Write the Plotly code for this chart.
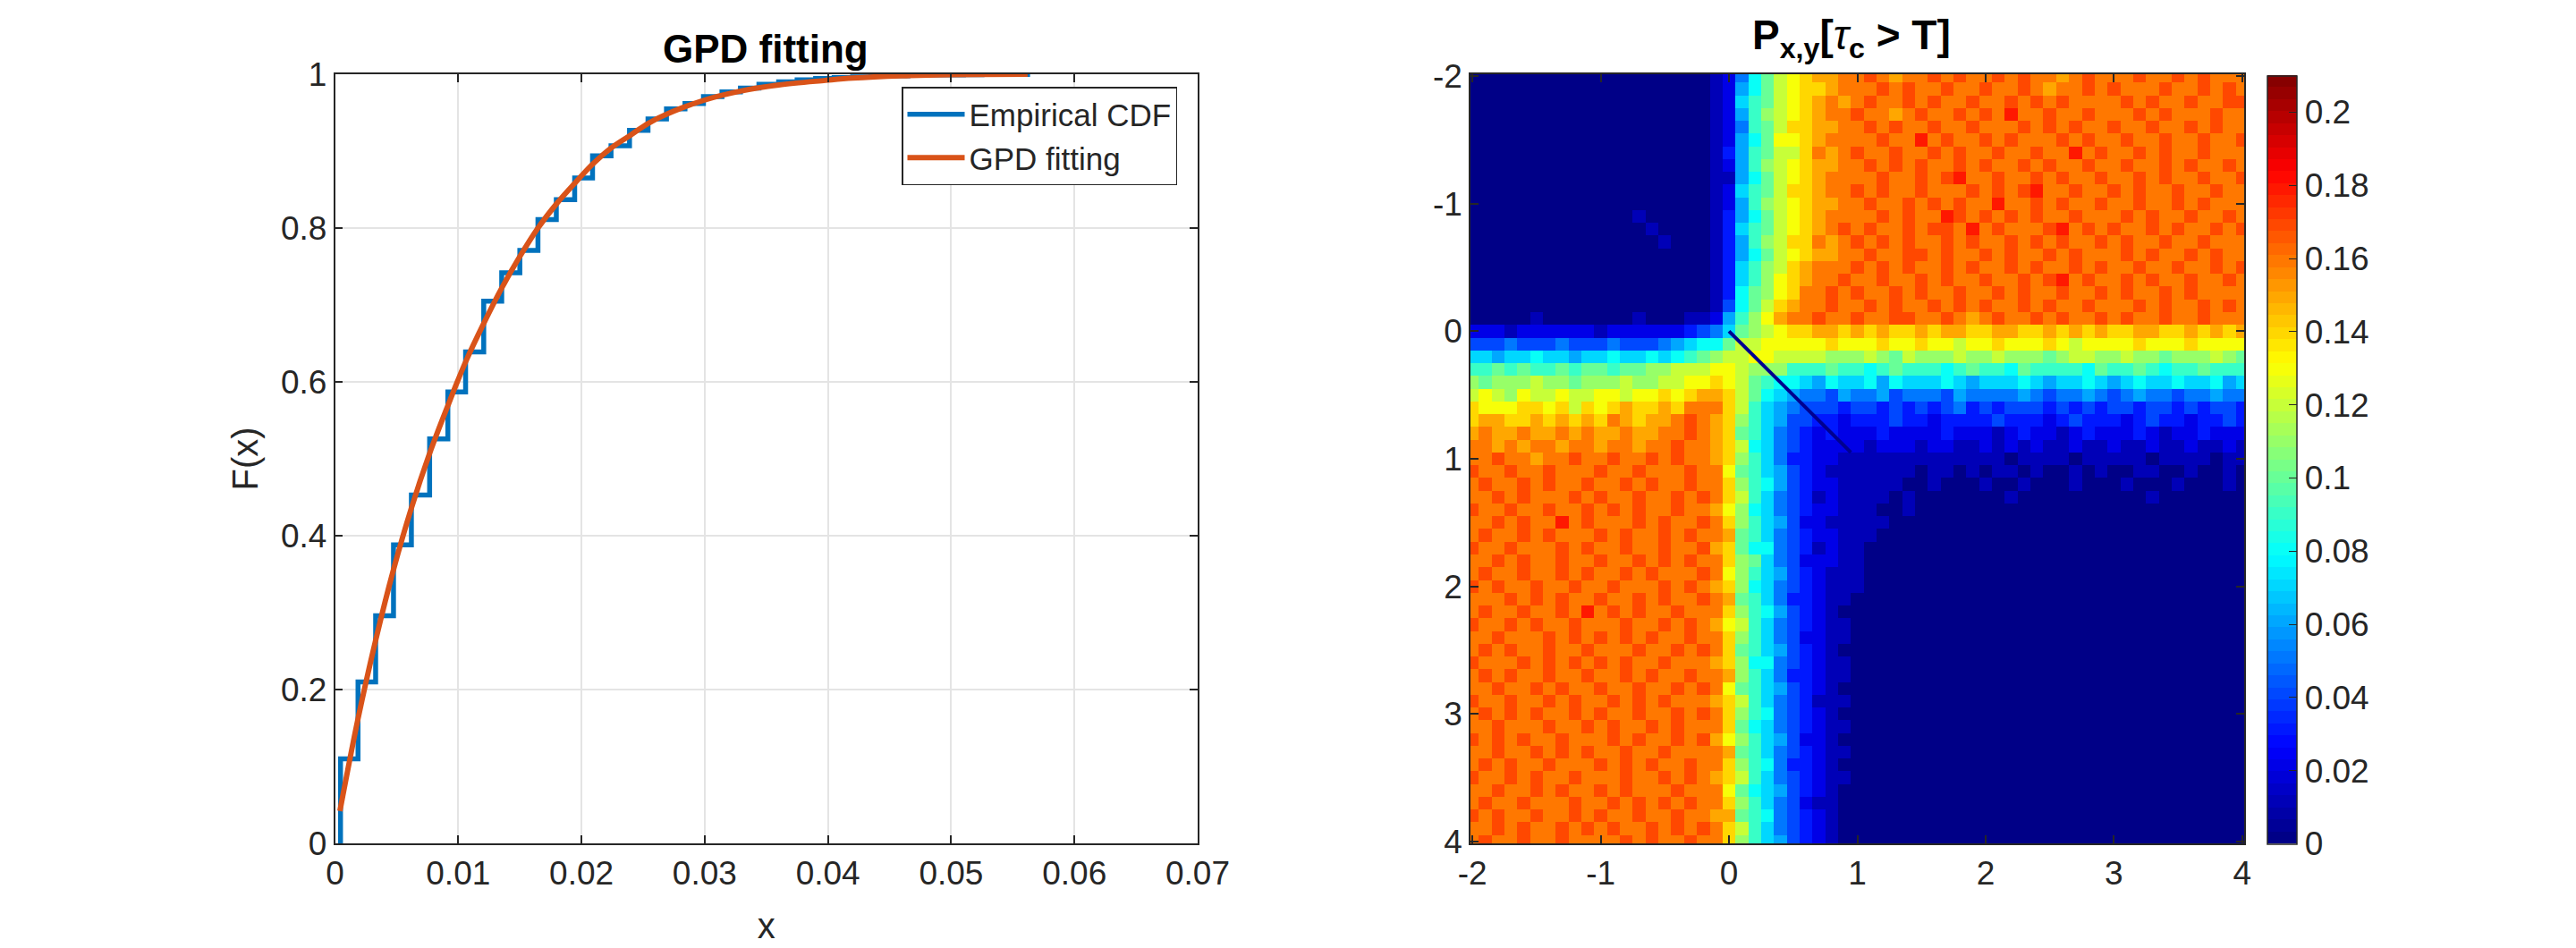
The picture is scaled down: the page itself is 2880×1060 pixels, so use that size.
import plotly.graph_objects as go

W = 2880
H = 1060
ML, MR, MT, MB = 200, 200, 60, 80
PAGE_OFFSET = 8  # the page body margin

# ---------------------------------- left panel ----------------------------------
empirical_x = [0.00045, 0.00045, 0.00187, 0.0033, 0.00475, 0.0062, 0.00768, 0.00916, 0.0106, 0.01207,
               0.01353, 0.015, 0.01647, 0.01796, 0.01945, 0.0209, 0.0224, 0.0239, 0.0254, 0.0269,
               0.0284, 0.0299, 0.0314, 0.0329, 0.0344, 0.036, 0.0375, 0.039, 0.0405, 0.042,
               0.0435, 0.045, 0.0465, 0.048, 0.0495, 0.051, 0.0525, 0.054, 0.0562]
empirical_y = [0, 0.11, 0.21, 0.296, 0.388, 0.453, 0.526, 0.587, 0.639, 0.705,
               0.742, 0.771, 0.811, 0.837, 0.865, 0.894, 0.907, 0.927, 0.942, 0.955,
               0.962, 0.971, 0.977, 0.982, 0.987, 0.99, 0.9926, 0.9945, 0.9955, 0.9965,
               0.9975, 0.998, 0.9985, 0.999, 0.9992, 0.9995, 0.9997, 0.9998, 1.0]

fit_x = [0.0004, 0.00187, 0.0033, 0.00475, 0.0062, 0.00768, 0.00916, 0.0106, 0.01207, 0.01353,
         0.015, 0.01647, 0.018, 0.0195, 0.0209, 0.0224, 0.024, 0.0254, 0.0269, 0.0299,
         0.0329, 0.036, 0.0398, 0.042, 0.046, 0.05, 0.0562]
fit_y = [0.042, 0.162, 0.264, 0.356, 0.436, 0.507, 0.569, 0.626, 0.676, 0.722,
         0.763, 0.8, 0.832, 0.859, 0.883, 0.904, 0.921, 0.936, 0.948, 0.966,
         0.978, 0.986, 0.992, 0.995, 0.998, 0.9995, 1.0]

# ---------------------------------- right panel ---------------------------------
# values on a 0.1 grid, one letter per cell: a=0, b=0.01, c=0.02 ...
cell_x = [-2 + i * 0.1 for i in range(61)]
cell_y = [-2 + i * 0.1 for i in range(61)]
cell_rows = [
    "aaaaaaaaaa aaaaaaaaab cfikmnoppq qrqpqqrqrq qrqrqqpqrq qqrqqrqrqq q",
    "aaaaaaaaaa aaaaaaaaab cgikmnoopq qqrqrqqrqq rqqrqpqqrq rqqqrqqrqr q",
    "aaaaaaaaaa aaaaaaaaab chjkmnopqp qrqqrqrqqr qqrqrqrqqq qrqrqqrqqr r",
    "aaaaaaaaaa aaaaaaaaab cgjlmnopqq rqqpqrqqrq rqsqqrqqrq qqrqrqqqrq q",
    "aaaaaaaaaa aaaaaaaaab cfjkmooppq qrqrqqrqqr qqqrqrqrqq rqqrqqrqrq q",
    "aaaaaaaaaa aaaaaaaaab cgiknnopqq qqrqqsqrqq rqrqqqrqrq qrqqrqqrqq r",
    "aaaaaaaaaa aaaaaaaaab dgjkmmoqpq rqqrqqrqrq qrqqrqqsqr qqrqrqqrqq q",
    "aaaaaaaaaa aaaaaaaaab cgjlmnoppq qrqrqrqqrq rqqrqrqqrq qrqqrqrqqr q",
    "aaaaaaaaaa aaaaaaaaab bgikmnopqq qqrqqrqrsq qrqqrqrqqr qqrqrqqrqq r",
    "aaaaaaaaaa aaaaaaaaab chjkmoopqq rqrqqrqqqr qrqrsqqrqq rqrqqrqqrq q",
    "aaaaaaaaaa aaaaaaaaab cgjlmnoppq qrqqrqrqrq qsqqrqrqqr qqrqqrqrqq q",
    "aaaaaaaaaa aaabaaaaab dgikmnopqq qqrqrqqsrq rqrqrqqrqq qrqrqqrqqr q",
    "aaaaaaaaaa aaaabaaaab dhjkmnopqr qrqqrqrrqs qrqqqrsqrq rqqrqrqqrq r",
    "aaaaaaaaaa aaaaabaaab dgjlmooqpq rqrqrqqrqr qqrqrqrqqr qrqqrqqrqq q",
    "aaaaaaaaaa aaaaaaaaab dgikmnoppq qrqqrrqrqq rqrqqrqrqq qrqrqqrqrq q",
    "aaaaaaaaaa aaaaaaaaab dhjlmopqqq rqrqrqqrqr qqrqrqqrqr qqrqqrqqrq r",
    "aaaaaaaaaa aaaaaaaaab dhjlnopqqr qqrqqrqrqq rqqrqrsqrq qrqrqqrqqr q",
    "aaaaaaaaaa aaaaaaaaab diklnoqqrq rqqrqrqqrq qrqrqqrqqr qrqqrqrqqq q",
    "aaaaaaaaaa aaaaaaaaab eikmopqqrq qrqrqqrqrq rqqrqrqqrq qqrqrqqrqr q",
    "aaaaabaaaa aaabaaabbc gjlnpqqrqq rqqrrqqrqp qrqqrqrqqr qrqqrqqrqq q",
    "cccbcccccc bccccccdef hklmnooppo popoopoppo oppoopopop ooppoopopo p",
    "eeefeeefee efeeefghii kmmnnnnnon nnonnonnmn nonnnonmnn nnonnnonnn n",
    "hhghhihhgh hihhihijkl mmnnmmmmll lmlkmlllml lmlllklmml lmllklllml k",
    "jjkjkjjkjk kjkkllmmmn nmllljjjkj jijkjjjijk jjikjjjjik jjkjijjkjj j",
    "lklllmllkl llmllmmnno nmkjiihgih higihhhihg hhhihghhih ghihhihhig h",
    "mnmlnmmnmm nnmnnonopp omkihgffeg ffgefffegf fffgfeffgf efgffeffgf f",
    "onnnoonomo nopoopoqqq omjhgfeeed eedededefd edeeededed eedeededee d",
    "oppoopopop oqpoppqrqp oljhgeeddc dddeddcddd dedddcdedd dcdeddcdde d",
    "pqppqppqpq ppqppqqrqp okjhfedcdc ccdccccdcc cbcdccbcdc ccdcbccdcc c",
    "qqpqpqqpqq pqqpqqrqqp omihfedccc cbcccbccbb cbcbcbbcbb cbbcbbcbbc b",
    "qqrqqpqqrq qrqqrqrqqp oljhfddccb bbbbbbbbbb bbabbbbabb bbbabbbbab b",
    "rqqrqqrqqq rqqrqqqrqq nkjhgedcbb bbbbbabbab abbabaabab aabbaabaab a",
    "qrqqrqrqqr qqrqrqqrqq oljigedccb bbbbaabaaa baabaaabaa abaaabaaab a",
    "qqrqrqqqrq rqqrqqrqrq omjhfedbcb bbbabaaaaa aabaaaaaaa aaabaaaaaa a",
    "rqqrqqrqqr qrqrqqrqqp nlihfedccb bbaabaaaaa aaaaaaaaaa aaaaaaaaaa a",
    "qqrqrqqsqr qqqrqrqqrq oljhgeccbb bbbaaaaaaa aaaaaaaaaa aaaaaaaaaa a",
    "qrqqrqrqqq rqrqqrqrqq pkjhfedccb bbaaaaaaaa aaaaaaaaaa aaaaaaaaaa a",
    "rqqrqqqrqr qqrqqrqqrp okiifedbcb baaaaaaaaa aaaaaaaaaa aaaaaaaaaa a",
    "qqrqrqqrqq rqqrqrqrqq olkhfecccb baaaaaaaaa aaaaaaaaaa aaaaaaaaaa a",
    "qrqqrqqrqr qqrqrqqqrq nljhgedcbb baaaaaaaaa aaaaaaaaaa aaaaaaaaaa a",
    "rqrqqrqqrq qrqqqrqrqp olihfedcbb baaaaaaaaa aaaaaaaaaa aaaaaaaaaa a",
    "qqqrqrqrqq rqqrqrqqrq pkjhfddcbb aaaaaaaaaa aaaaaaaaaa aaaaaaaaaa a",
    "qrqqrqqrqs qrqrqqrqqq oljigedcba aaaaaaaaaa aaaaaaaaaa aaaaaaaaaa a",
    "rqqrqrqqrq qqrqqrqrqp nmjhfedcbb aaaaaaaaaa aaaaaaaaaa aaaaaaaaaa a",
    "qqrqqqrqrq rqrqrqqrqq oljhfeccbb aaaaaaaaaa aaaaaaaaaa aaaaaaaaaa a",
    "qrqrqqrqqr qqqrqqrqrq okjhgedcba aaaaaaaaaa aaaaaaaaaa aaaaaaaaaa a",
    "rqqqrqrqrq rqrqqrqqqp oliifedcbb aaaaaaaaaa aaaaaaaaaa aaaaaaaaaa a",
    "qrqrqqrqqr qqrqrqqrqq pljhfddcbb aaaaaaaaaa aaaaaaaaaa aaaaaaaaaa a",
    "qqrqqrqrqq rqqrqqrqrq nkjhgedcba aaaaaaaaaa aaaaaaaaaa aaaaaaaaaa a",
    "rqqrqqrqrq qrqrqrqqqp omjhfedbbb aaaaaaaaaa aaaaaaaaaa aaaaaaaaaa a",
    "qrqrqrqqrq rqqrqqrqrq oljifedcba aaaaaaaaaa aaaaaaaaaa aaaaaaaaaa a",
    "qqrqqqrqqr qrqqrqrqqq okihfedcbb aaaaaaaaaa aaaaaaaaaa aaaaaaaaaa a",
    "rqrqrqqrqq qrqrqqrqrp nljhgeccba aaaaaaaaaa aaaaaaaaaa aaaaaaaaaa a",
    "qqrqqrqrqr qqrqqrqqqq pkjhfedcbb aaaaaaaaaa aaaaaaaaaa aaaaaaaaaa a",
    "qrqrqqrqqq rqrqrqqrqq oljifddcba aaaaaaaaaa aaaaaaaaaa aaaaaaaaaa a",
    "rqqrqrqqrq qqrqqrqrqp omjhfedcbb aaaaaaaaaa aaaaaaaaaa aaaaaaaaaa a",
    "qqrqqrqrqq rqrqqqrqqq nkihgedcba aaaaaaaaaa aaaaaaaaaa aaaaaaaaaa a",
    "qrqqrqqqrq qrqrqrqrqq oljhfecbba aaaaaaaaaa aaaaaaaaaa aaaaaaaaaa a",
    "rqrqqrqqrq rqqrqqrqqp pkjifedcba aaaaaaaaaa aaaaaaaaaa aaaaaaaaaa a",
    "qqrqrqqrqr qrqqrqrqrq omjhfedcba aaaaaaaaaa aaaaaaaaaa aaaaaaaaaa a",
    "qrqqrqqrqq qqrqrqqrqq oljhgedcba aaaaaaaaaa aaaaaaaaaa aaaaaaaaaa a",
]
diag_x = [0, 0.95]
diag_y = [0, 0.95]

x_ticks_left = [0, 0.01, 0.02, 0.03, 0.04, 0.05, 0.06, 0.07]
y_ticks_left = [0, 0.2, 0.4, 0.6, 0.8, 1]
ticks_right = [-2, -1, 0, 1, 2, 3, 4]
tick_labels_right = ['-2', '-1', '0', '1', '2', '3', '4']
cbar_ticks = [0, 0.02, 0.04, 0.06, 0.08, 0.1, 0.12, 0.14, 0.16, 0.18, 0.2]

z = [[(ord(c) - ord('a')) / 100 for c in row.replace(' ', '')] for row in cell_rows]


def px(v):
    return (v - PAGE_OFFSET - ML) / (W - ML - MR)


def py(v):
    return 1 - (v - PAGE_OFFSET - MT) / (H - MT - MB)


def jet(t):
    # matlab style jet
    r = min(4 * t - 1.5, -4 * t + 4.5)
    g = min(4 * t - 0.5, -4 * t + 3.5)
    b = min(4 * t + 0.5, -4 * t + 2.5)
    vals = [max(0, min(1, v)) for v in (r, g, b)]
    return 'rgb(%d,%d,%d)' % tuple(round(v * 255) for v in vals)


jet64 = []
for i in range(64):
    col = jet((i + 0.5) / 64)
    jet64.append([i / 64, col])
    jet64.append([(i + 1) / 64, col])

FONT = 'Liberation Sans'
TEXT = '#262626'

fig = go.Figure()

fig.add_trace(go.Scatter(x=empirical_x, y=empirical_y, mode='lines', name='Empirical CDF',
                         line=dict(color='#0072BD', width=5.5, shape='hv'), xaxis='x', yaxis='y'))
fig.add_trace(go.Scatter(x=fit_x, y=fit_y, mode='lines', name='GPD fitting',
                         line=dict(color='#D95319', width=6, shape='spline'), xaxis='x', yaxis='y'))

fig.add_trace(go.Heatmap(x=cell_x, y=cell_y, z=z, zmin=0, zmax=0.21, colorscale=jet64, xaxis='x2', yaxis='y2',
                         colorbar=dict(x=px(2535), xanchor='left', y=py(943.5), yanchor='bottom',
                                       len=859 / (H - MT - MB), lenmode='fraction', thickness=33,
                                       thicknessmode='pixels', xpad=0, ypad=0, outlinecolor=TEXT,
                                       outlinewidth=1.5, tickvals=cbar_ticks, ticks='inside', ticklen=9,
                                       tickcolor=TEXT, tickfont=dict(family=FONT, size=37, color=TEXT))))
fig.add_trace(go.Scatter(x=diag_x, y=diag_y, mode='lines', showlegend=False,
                         line=dict(color='#00008F', width=4), xaxis='x2', yaxis='y2'))

axis_style = dict(showline=True, linecolor=TEXT, linewidth=1.5, mirror='ticks', ticks='inside', ticklen=9,
                  tickcolor=TEXT, tickwidth=1.5, zeroline=False, automargin=False,
                  tickfont=dict(family=FONT, size=37, color=TEXT))

fig.update_layout(
    width=W, height=H, autosize=False,
    margin=dict(l=ML, r=MR, t=MT, b=MB),
    paper_bgcolor='white', plot_bgcolor='white',
    font=dict(family=FONT, color=TEXT),
    xaxis=dict(domain=[px(374.5), px(1339)], range=[0, 0.07], tickvals=x_ticks_left,
               showgrid=True, gridcolor='#e4e4e4', gridwidth=1.5,
               title=dict(text='x', font=dict(family=FONT, size=40, color=TEXT), standoff=25),
               anchor='y', **axis_style),
    yaxis=dict(domain=[py(943), py(83)], range=[0, 1], tickvals=y_ticks_left,
               showgrid=True, gridcolor='#e4e4e4', gridwidth=1.5,
               title=dict(text='F(x)', font=dict(family=FONT, size=40, color=TEXT), standoff=13),
               anchor='x', **axis_style),
    xaxis2=dict(domain=[px(1644), px(2509)], range=[-2.015, 4.015], tickvals=ticks_right,
                ticktext=tick_labels_right, showgrid=False, anchor='y2', **axis_style),
    yaxis2=dict(domain=[py(943), py(83)], range=[4.015, -2.015], tickvals=ticks_right,
                ticktext=tick_labels_right, showgrid=False, anchor='x2', **axis_style),
    legend=dict(x=px(1008), y=py(97), xanchor='left', yanchor='top', bgcolor='white',
                bordercolor=TEXT, borderwidth=1.5, itemwidth=64, traceorder='normal',
                font=dict(family=FONT, size=35, color=TEXT)),
    annotations=[
        dict(text='<b>GPD fitting</b>', x=px(856), y=py(55), xref='paper', yref='paper', xanchor='center',
             yanchor='middle', showarrow=False, font=dict(family=FONT, size=44, color='black')),
        dict(text='<b>P<sub>x,y</sub>[</b><i>τ</i><b><sub>c</sub> > T]</b>', x=px(2070), y=py(42),
             xref='paper', yref='paper', xanchor='center', yanchor='middle', showarrow=False,
             font=dict(family=FONT, size=46, color='black')),
    ],
)

fig.write_html("out.html")
